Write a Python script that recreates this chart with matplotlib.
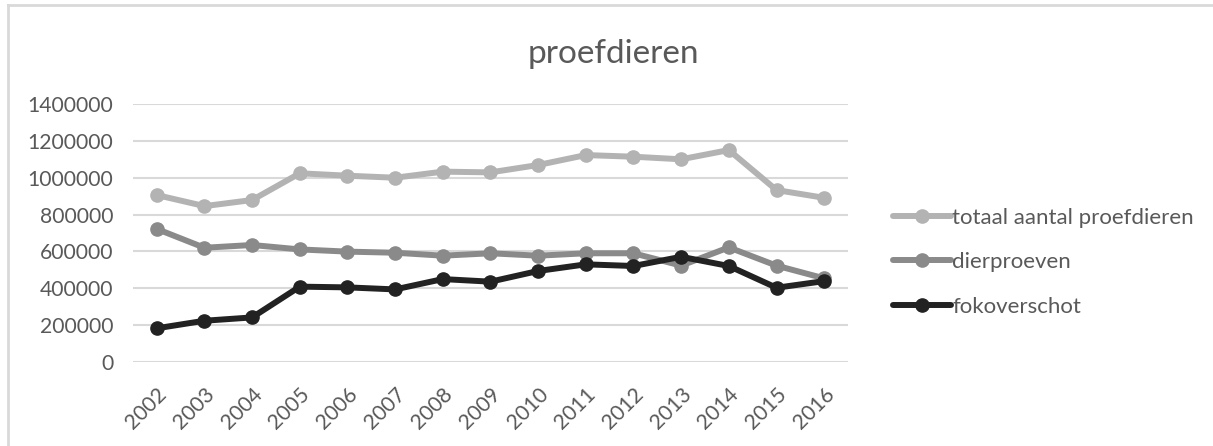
import numpy as np
import matplotlib
matplotlib.use("Agg")
import matplotlib.pyplot as plt
from matplotlib.lines import Line2D

years = [str(y) for y in range(2002, 2017)]
totaal = [906000, 846000, 879000, 1024000, 1011000, 1000000, 1033000, 1029000,
          1069000, 1123000, 1114000, 1100000, 1150000, 933000, 891000]
dierproeven = [722000, 620000, 635000, 611000, 599000, 593000, 577000, 590000,
               577000, 590000, 590000, 523000, 622000, 523000, 454000]
fokoverschot = [183000, 224000, 242000, 409000, 405000, 394000, 450000, 436000,
                494000, 530000, 521000, 571000, 521000, 403000, 439000]
yticks = [0, 200000, 400000, 600000, 800000, 1000000, 1200000, 1400000]

plt.rcParams['font.family'] = ['Lato', 'DejaVu Sans']
txt = '#595959'

fig = plt.figure(figsize=(12.13, 4.46), dpi=100)
ax = fig.add_axes([0.1096, 0.1883, 0.5895, 0.5785])

x = np.arange(len(years))
series = [(totaal, 'totaal aantal proefdieren', '#b3b3b3'),
          (dierproeven, 'dierproeven', '#8a8a8a'),
          (fokoverschot, 'fokoverschot', '#222222')]
for vals, name, col in series:
    ax.plot(x, vals, color=col, lw=4.3, marker='o', ms=9.5, label=name,
            solid_capstyle='round')

ax.set_xlim(-0.5, len(years) - 0.5)
ax.set_ylim(0, 1400000)
ax.set_yticks(yticks)
ax.set_yticklabels([str(v) for v in yticks], fontsize=15.2, color=txt)
ax.set_xticks(x)
ax.set_xticklabels(years, rotation=45, ha='right', rotation_mode='anchor',
                   fontsize=15.2, color=txt)
ax.tick_params(axis='y', length=0, pad=14)
ax.tick_params(axis='x', length=0, pad=16)
ax.grid(axis='y', color='#d9d9d9', lw=1.5)
ax.set_axisbelow(True)
for s in ax.spines.values():
    s.set_visible(False)

fig.text(0.506, 0.88, 'proefdieren', ha='center', va='center',
         fontsize=24, color=txt)

leg = fig.legend(loc='center left', bbox_to_anchor=(0.72, 0.412), frameon=False,
                 fontsize=16, labelspacing=1.1, handlelength=2.6,
                 handletextpad=0.05, labelcolor=txt)

# chart border
fig.add_artist(Line2D([8 / 1213, 8 / 1213], [0, 1 - 5 / 446],
                      transform=fig.transFigure, color='#d9d9d9', lw=2))
fig.add_artist(Line2D([8 / 1213, 1], [1 - 5 / 446, 1 - 5 / 446],
                      transform=fig.transFigure, color='#d9d9d9', lw=2))

fig.savefig('out.png', dpi=100)
